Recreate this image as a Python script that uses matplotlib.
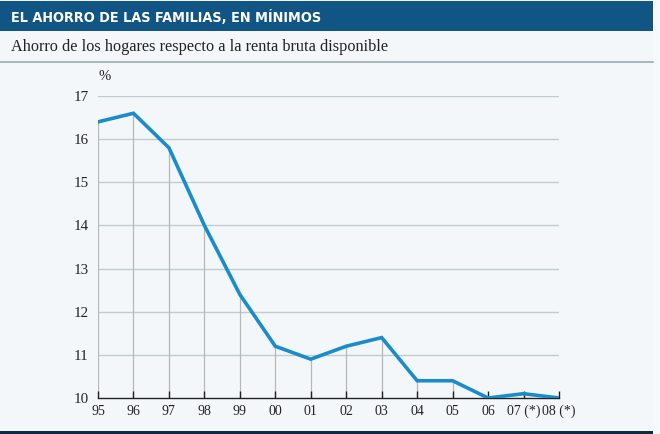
import matplotlib
matplotlib.use("Agg")
import matplotlib.pyplot as plt
from matplotlib.patches import Rectangle
from matplotlib.lines import Line2D

years = ["95", "96", "97", "98", "99", "00", "01", "02", "03", "04", "05", "06", "07 (*)", "08 (*)"]
values = [16.4, 16.6, 15.8, 14.0, 12.4, 11.2, 10.9, 11.2, 11.4, 10.4, 10.4, 10.0, 10.1, 10.0]
yticks = [10, 11, 12, 13, 14, 15, 16, 17]

W, H = 660, 434
fig = plt.figure(figsize=(W / 100, H / 100), dpi=100)
fig.patch.set_facecolor("#f3f7f9")

def fx(px):
    return px / W

def fy(py):
    return 1 - py / H

# title bar
fig.patches.append(Rectangle((0, fy(31)), fx(653), fy(1) - fy(31), transform=fig.transFigure,
                             facecolor="#115585", edgecolor="none", zorder=0))
fig.text(fx(11), fy(17), "EL AHORRO DE LAS FAMILIAS, EN MÍNIMOS", color="white",
         fontsize=10.4, fontweight="bold", family="DejaVu Sans", fontstretch="condensed",
         va="center", ha="left")
fig.text(fx(11), fy(47), "Ahorro de los hogares respecto a la renta bruta disponible",
         color="#222222", fontsize=11.7, family="Liberation Serif", va="center", ha="left")
fig.lines.append(Line2D([0, fx(653)], [fy(62), fy(62)], transform=fig.transFigure,
                        color="#9aaab4", lw=1.2))
fig.patches.append(Rectangle((0, 0), fx(653), fy(431), transform=fig.transFigure,
                             facecolor="#0e2a44", edgecolor="none"))
fig.patches.append(Rectangle((fx(653), 0), 1 - fx(653), 1, transform=fig.transFigure,
                             facecolor="#f6f9fb", edgecolor="none"))

ax = fig.add_axes([fx(98), fy(398), fx(559) - fx(98), fy(96) - fy(398)])
ax.set_facecolor("none")
x = list(range(len(years)))
ax.set_xlim(0, len(years) - 1)
ax.set_ylim(10, 17)

for yv in yticks[1:]:
    ax.axhline(yv, color="#c0ccd2", lw=1.0, zorder=1)
for xi, v in zip(x, values):
    ax.plot([xi, xi], [10, v], color="#b8b8b8", lw=0.9, zorder=1)

ax.plot(x, values, color="#1a8ccc", lw=2.6, zorder=3, solid_joinstyle="miter")

for s in ["top", "right", "left"]:
    ax.spines[s].set_visible(False)
ax.spines["bottom"].set_color("#222222")
ax.spines["bottom"].set_linewidth(1.0)
ax.set_xticks(x)
ax.set_xticklabels(years, family="Liberation Serif", fontsize=10, color="#222222")
ax.tick_params(axis="x", direction="in", length=5, width=1, color="#222222", pad=5)
ax.set_yticks(yticks)
ax.set_yticklabels([str(t) for t in yticks], family="Liberation Serif", fontsize=10.8, color="#222222")
ax.tick_params(axis="y", length=0, pad=7)
ax.text(0.02, 17.45, "%", family="Liberation Serif", fontsize=10.5, color="#222222",
        ha="left", va="center", clip_on=False)

fig.savefig("out.png", dpi=100, facecolor=fig.get_facecolor())
